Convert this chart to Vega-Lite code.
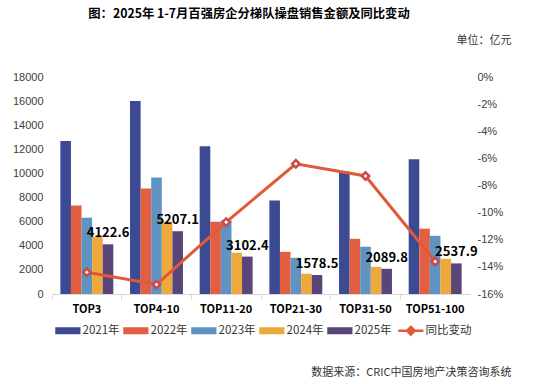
{
  "$schema": "https://vega.github.io/schema/vega-lite/v6.json",
  "width": 418,
  "height": 217,
  "autosize": {"type": "none"},
  "padding": {"left": 52, "top": 77, "right": 71, "bottom": 90},
  "background": "white",
  "title": {
    "text": "图：2025年 1-7月百强房企分梯队操盘销售金额及同比变动",
    "font": "Noto Sans CJK SC",
    "fontSize": 12.3,
    "fontWeight": "bold",
    "color": "#000000",
    "anchor": "middle",
    "frame": "group",
    "dx": -12,
    "offset": 14
  },
  "datasets": {
    "bars": [
      {"cat": "TOP3", "year": "2021年", "value": 12700},
      {"cat": "TOP3", "year": "2022年", "value": 7350},
      {"cat": "TOP3", "year": "2023年", "value": 6330},
      {"cat": "TOP3", "year": "2024年", "value": 4750},
      {"cat": "TOP3", "year": "2025年", "value": 4122.6},
      {"cat": "TOP4-10", "year": "2021年", "value": 16000},
      {"cat": "TOP4-10", "year": "2022年", "value": 8750},
      {"cat": "TOP4-10", "year": "2023年", "value": 9670},
      {"cat": "TOP4-10", "year": "2024年", "value": 6000},
      {"cat": "TOP4-10", "year": "2025年", "value": 5207.1},
      {"cat": "TOP11-20", "year": "2021年", "value": 12250},
      {"cat": "TOP11-20", "year": "2022年", "value": 6000},
      {"cat": "TOP11-20", "year": "2023年", "value": 6100},
      {"cat": "TOP11-20", "year": "2024年", "value": 3420},
      {"cat": "TOP11-20", "year": "2025年", "value": 3102.4},
      {"cat": "TOP21-30", "year": "2021年", "value": 7750},
      {"cat": "TOP21-30", "year": "2022年", "value": 3500},
      {"cat": "TOP21-30", "year": "2023年", "value": 3000},
      {"cat": "TOP21-30", "year": "2024年", "value": 1670},
      {"cat": "TOP21-30", "year": "2025年", "value": 1578.5},
      {"cat": "TOP31-50", "year": "2021年", "value": 10170},
      {"cat": "TOP31-50", "year": "2022年", "value": 4580},
      {"cat": "TOP31-50", "year": "2023年", "value": 3920},
      {"cat": "TOP31-50", "year": "2024年", "value": 2250},
      {"cat": "TOP31-50", "year": "2025年", "value": 2089.8},
      {"cat": "TOP51-100", "year": "2021年", "value": 11170},
      {"cat": "TOP51-100", "year": "2022年", "value": 5420},
      {"cat": "TOP51-100", "year": "2023年", "value": 4830},
      {"cat": "TOP51-100", "year": "2024年", "value": 2920},
      {"cat": "TOP51-100", "year": "2025年", "value": 2537.9}
    ],
    "yoy": [
      {"cat": "TOP3", "pct": -14.4},
      {"cat": "TOP4-10", "pct": -15.3},
      {"cat": "TOP11-20", "pct": -10.7},
      {"cat": "TOP21-30", "pct": -6.4},
      {"cat": "TOP31-50", "pct": -7.3},
      {"cat": "TOP51-100", "pct": -13.6}
    ]
  },
  "encoding": {
    "x": {
      "field": "cat",
      "type": "nominal",
      "sort": ["TOP3", "TOP4-10", "TOP11-20", "TOP21-30", "TOP31-50", "TOP51-100"],
      "scale": {"paddingInner": 0, "paddingOuter": 0},
      "axis": {
        "title": "数据来源：CRIC中国房地产决策咨询系统",
        "titleFont": "Noto Sans CJK SC",
        "titleFontSize": 11,
        "titleFontWeight": "normal",
        "titleColor": "#333333",
        "titleAlign": "right",
        "titleAnchor": null,
        "titleBaseline": "middle",
        "titleX": 459,
        "titleY": 78,
        "labelAngle": 0,
        "labelFont": "Noto Sans CJK SC",
        "labelFontSize": 11,
        "labelFontWeight": "bold",
        "labelColor": "#000000",
        "labelPadding": 4,
        "bandPosition": 0,
        "labelBound": false,
        "labelOverlap": false,
        "tickSize": 5,
        "tickColor": "#d9d9d9",
        "domainColor": "#d9d9d9",
        "domainWidth": 1,
        "grid": false
      }
    }
  },
  "layer": [
    {
      "data": {"name": "bars"},
      "encoding": {
        "xOffset": {
          "field": "year",
          "type": "nominal",
          "scale": {"paddingInner": 0, "paddingOuter": 0.79}
        },
        "y": {
          "field": "value",
          "type": "quantitative",
          "scale": {"domain": [0, 18000], "nice": false},
          "axis": {
            "title": null,
            "values": [0, 2000, 4000, 6000, 8000, 10000, 12000, 14000, 16000, 18000],
            "format": "d",
            "labelFont": "Liberation Sans",
            "labelFontSize": 11,
            "labelColor": "#404040",
            "labelPadding": 9,
            "domain": false,
            "ticks": false,
            "grid": false
          }
        }
      },
      "layer": [
        {
          "mark": {"type": "bar"},
          "encoding": {
            "color": {
              "field": "year",
              "type": "nominal",
              "scale": {
                "domain": ["2021年", "2022年", "2023年", "2024年", "2025年", "同比变动"],
                "range": ["#3B4A92", "#E35F41", "#5E93C2", "#EDA93B", "#59457A", "#E05A3A"]
              },
              "legend": {
                "title": null,
                "orient": "none",
                "legendX": 1,
                "legendY": 248,
                "direction": "horizontal",
                "gridAlign": "none",
                "symbolSize": 49,
                "labelOffset": 18,
                "columnPadding": 1,
                "labelFont": "Noto Sans CJK SC",
                "labelFontSize": 11.5,
                "labelColor": "#333333",
                "encode": {
                  "symbols": {
                    "update": {
                      "shape": {"signal": "datum.value === '同比变动' ? 'M-1,0H1.5M3.7,0H6.2M2.6,-1.1L3.7,0L2.6,1.1L1.5,0Z' : 'M-1,-1H6.2V1H-1Z'"},
                      "fill": {"signal": "datum.value === '同比变动' ? '#ffffff' : scale('color', datum.value)"},
                      "stroke": {"signal": "scale('color', datum.value)"},
                      "strokeWidth": {"signal": "datum.value === '同比变动' ? 2.5 : 0"},
                      "opacity": {"value": 1}
                    }
                  }
                }
              }
            }
          }
        },
        {
          "transform": [{"filter": "datum.year === '2025年'"}],
          "mark": {
            "type": "text",
            "font": "Noto Sans CJK SC",
            "fontSize": 13,
            "fontWeight": "bold",
            "color": "#000000",
            "baseline": "alphabetic",
            "align": "center",
            "dy": -7
          },
          "encoding": {
            "text": {"field": "value", "type": "quantitative", "format": ".1f"}
          }
        }
      ]
    },
    {
      "data": {"name": "yoy"},
      "encoding": {
        "y": {
          "field": "pct",
          "type": "quantitative",
          "scale": {"domain": [-16, 0], "nice": false},
          "axis": {
            "orient": "right",
            "title": "单位：亿元",
            "titleFont": "Noto Sans CJK SC",
            "titleFontSize": 11,
            "titleFontWeight": "normal",
            "titleColor": "#333333",
            "titleAngle": 0,
            "titleAlign": "right",
            "titleBaseline": "middle",
            "titleAnchor": null,
            "titleX": 41,
            "titleY": -37,
            "values": [0, -2, -4, -6, -8, -10, -12, -14, -16],
            "labelExpr": "datum.value + '%'",
            "labelFont": "Liberation Sans",
            "labelFontSize": 11,
            "labelColor": "#404040",
            "labelPadding": 7,
            "domain": false,
            "ticks": false,
            "grid": false
          }
        }
      },
      "layer": [
        {
          "mark": {"type": "line", "strokeWidth": 3},
          "encoding": {
            "color": {"datum": "同比变动", "type": "nominal"}
          }
        },
        {
          "mark": {"type": "point", "shape": "diamond", "filled": true, "fill": "#ffffff", "stroke": "#C94A4A", "strokeWidth": 2.5, "size": 55, "opacity": 1}
        }
      ]
    }
  ],
  "resolve": {"scale": {"y": "independent"}},
  "config": {
    "view": {"stroke": null}
  }
}
